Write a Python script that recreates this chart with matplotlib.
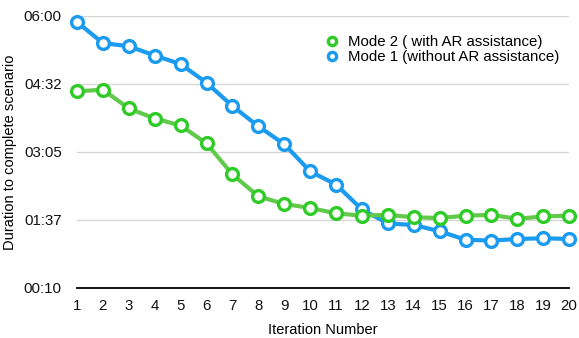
import numpy as np
import matplotlib.pyplot as plt

plt.rcParams['font.family'] = ['Liberation Sans', 'DejaVu Sans']

# iteration numbers
iterations = list(range(1, 21))

# durations in seconds
mode1_secs = [352, 325, 321, 309, 298, 274, 244, 218, 195, 160,
              143, 111, 93, 91, 83, 72, 71, 73, 74, 73]
mode2_secs = [263, 265, 241, 228, 219, 196, 156, 128, 118, 113,
              106, 103, 104, 101, 100, 103, 104, 99, 102, 103]

ytick_secs = [10, 97.5, 185, 272.5, 360]
ytick_labels = ['00:10', '01:37', '03:05', '04:32', '06:00']

blue = '#1A9BEF'
green_line = '#62C94B'
green_edge = '#2FCB26'

fig = plt.figure(figsize=(5.79, 3.38), dpi=100)
ax = fig.add_axes([0.133, 0.148, 0.850, 0.805])

ax.plot(iterations, mode1_secs, color=blue, lw=3, marker='o', ms=8.5,
        mfc='white', mec=blue, mew=2.4, clip_on=False, zorder=3,
        label='Mode 1 (without AR assistance)')
ax.plot(iterations, mode2_secs, color=green_line, lw=3, marker='o', ms=8.5,
        mfc='white', mec=green_edge, mew=2.4, clip_on=False, zorder=4,
        label='Mode 2 ( with AR assistance)')

ax.set_xlim(1, 20)
ax.set_ylim(10, 360)
ax.set_xticks(iterations)
ax.set_yticks(ytick_secs)
ax.set_yticklabels(ytick_labels)
ax.tick_params(length=0, labelsize=10.8, colors='#111111')
ax.tick_params(axis='x', pad=8)
ax.tick_params(axis='y', pad=11)

for s in ['top', 'right', 'left']:
    ax.spines[s].set_visible(False)
ax.spines['bottom'].set_linewidth(1.3)
ax.spines['bottom'].set_color('black')
ax.grid(axis='y', color='#D5D5D5', lw=0.9)
ax.set_axisbelow(True)

ax.set_xlabel('Iteration Number', fontsize=10.5, labelpad=7)
ax.set_ylabel('Duration to complete scenario', fontsize=10.5, labelpad=4.5)

handles, labels = ax.get_legend_handles_labels()
leg = ax.legend(handles[::-1], labels[::-1], loc='upper left',
                bbox_to_anchor=(0.482, 0.978), frameon=False, fontsize=10.8,
                handlelength=0.6, handletextpad=0.77, labelspacing=0.05,
                markerscale=0.7)
for h in leg.legend_handles:
    h.set_linestyle('None')

fig.savefig('out.png', dpi=100)
